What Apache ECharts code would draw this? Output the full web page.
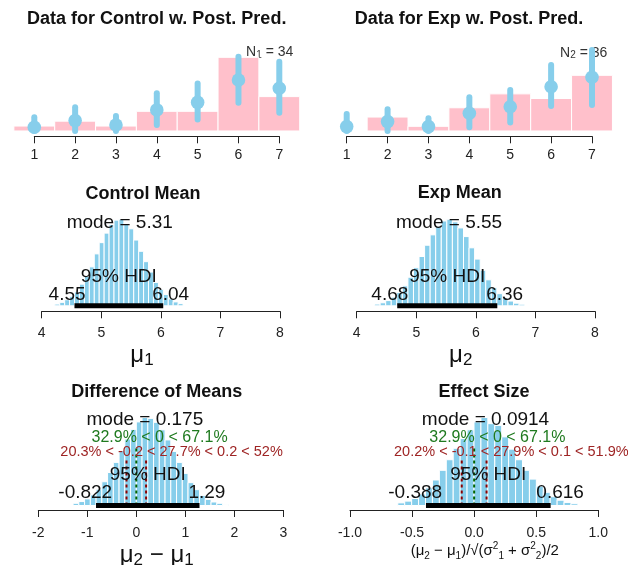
<!DOCTYPE html>
<html><head><meta charset="utf-8">
<script src="https://cdn.jsdelivr.net/npm/echarts@6/dist/echarts.min.js"></script>
<style>html,body{margin:0;padding:0;background:#fff}#c{width:628px;height:565px}</style>
</head><body><div id="c"></div>
<script>
// ---------------- data ----------------
const responseLevels = [1, 2, 3, 4, 5, 6, 7];
const ctrlCounts = [1, 2, 1, 4, 4, 15, 7];
const expCounts  = [0, 3, 1, 5, 8, 7, 12];
const ctrlN = 34, expN = 36;
const ctrlPredMid = [0.022, 0.062, 0.036, 0.126, 0.171, 0.305, 0.256];
const ctrlPredLo  = [0.000, 0.000, 0.000, 0.036, 0.069, 0.169, 0.109];
const ctrlPredHi  = [0.082, 0.142, 0.090, 0.226, 0.285, 0.445, 0.415];
const expPredMid  = [0.026, 0.056, 0.026, 0.106, 0.145, 0.265, 0.322];
const expPredLo   = [0.000, 0.000, 0.000, 0.022, 0.050, 0.150, 0.156];
const expPredHi   = [0.102, 0.130, 0.076, 0.202, 0.246, 0.395, 0.485];

const ctrlMeanBreakStart = 4.22, ctrlMeanBinWidth = 0.0828;
const ctrlMeanDensity = [0.02, 0.04, 0.07, 0.11, 0.16, 0.25, 0.34, 0.45, 0.60, 0.73, 0.84, 0.94, 0.99,
                         1.00, 0.95, 0.89, 0.76, 0.63, 0.51, 0.39, 0.27, 0.19, 0.13, 0.08, 0.045, 0.025];
const ctrlMeanMode = 5.31, ctrlMeanHDI = [4.55, 6.04];

const expMeanBreakStart = 4.30, expMeanBinWidth = 0.0933;
const expMeanDensity = [0.02, 0.035, 0.06, 0.10, 0.155, 0.23, 0.33, 0.44, 0.57, 0.70, 0.82, 0.92, 0.98, 1.00,
                        0.97, 0.90, 0.80, 0.67, 0.54, 0.41, 0.30, 0.21, 0.14, 0.09, 0.055, 0.03, 0.018];
const expMeanMode = 5.55, expMeanHDI = [4.68, 6.36];

const diffBreakStart = -1.29, diffBinWidth = 0.1173;
const diffDensity = [0.025, 0.045, 0.075, 0.12, 0.185, 0.27, 0.375, 0.49, 0.625, 0.755, 0.865, 0.95, 1.00, 0.99,
                     0.945, 0.86, 0.745, 0.615, 0.49, 0.365, 0.26, 0.18, 0.115, 0.07, 0.04, 0.025, 0.012];
const diffMode = 0.175, diffHDI = [-0.822, 1.29];
const diffCompVal = 0, diffCompPct = [32.9, 67.1];
const diffRope = [-0.2, 0.2], diffRopePct = [20.3, 27.7, 52];

const effBreakStart = -0.615, effBinWidth = 0.0558;
const effDensity = [0.03, 0.05, 0.08, 0.13, 0.20, 0.29, 0.40, 0.52, 0.65, 0.76, 0.86, 0.95, 1.00,
                    0.93, 0.91, 0.78, 0.64, 0.52, 0.40, 0.30, 0.22, 0.15, 0.10, 0.06, 0.035, 0.02];
const effMode = 0.0914, effHDI = [-0.388, 0.616];
const effCompVal = 0, effCompPct = [32.9, 67.1];
const effRope = [-0.1, 0.1], effRopePct = [20.2, 27.9, 51.9];

const titles = ['Data for Control w. Post. Pred.', 'Data for Exp w. Post. Pred.',
                'Control Mean', 'Exp Mean', 'Difference of Means', 'Effect Size'];

// ---------------- helpers ----------------
const FONT = "'Liberation Sans', Arial, Helvetica, sans-serif";
const SKY = '#87CEEB', PINK = '#FFC0CB', AX = '#222', TXT = '#111';
const GREEN = '#1f7a1f', RED = '#9e2424', GREENL = '#006400', REDL = '#8B0000';
const mctx = document.createElement('canvas').getContext('2d');
function textWidth(t, size, weight) { mctx.font = (weight || 'normal') + ' ' + size + 'px ' + FONT; return mctx.measureText(t).width; }

const grids = [
  {left: 34.3, top: 40, width: 245, height: 96.3},
  {left: 346.7, top: 40, width: 245.3, height: 96.3},
  {left: 41.7, top: 205, width: 238.3, height: 106.3},
  {left: 356.7, top: 205, width: 238.3, height: 106.3},
  {left: 38.3, top: 405, width: 245, height: 105},
  {left: 350, top: 405, width: 248.3, height: 105}
].map(g => Object.assign({outerBoundsMode: 'none', containLabel: false}, g));

function xAxisCfg(gi, min, max, interval, margin, fmt) {
  return {type: 'value', gridIndex: gi, min, max, interval, position: 'bottom',
    axisLine: {show: true, onZero: false, lineStyle: {color: AX, width: 1}},
    axisTick: {show: true, length: 7, lineStyle: {color: AX, width: 1}},
    axisLabel: {show: true, margin, fontSize: 14, fontFamily: FONT, color: '#222', formatter: fmt,
                showMinLabel: true, showMaxLabel: true, hideOverlap: false},
    splitLine: {show: false}};
}
function yAxisCfg(gi, min, max) { return {type: 'value', gridIndex: gi, min, max, show: false}; }

const xAxes = [
  xAxisCfg(0, 1, 7, 1, 12), xAxisCfg(1, 1, 7, 1, 12),
  xAxisCfg(2, 4, 8, 1, 14.5), xAxisCfg(3, 4, 8, 1, 14.5),
  xAxisCfg(4, -2, 3, 1, 16), xAxisCfg(5, -1, 1, 0.5, 16, v => v.toFixed(1))
];
const yAxes = [
  yAxisCfg(0, -0.032, 0.545), yAxisCfg(1, -0.032, 0.545),
  yAxisCfg(2, -0.0636, 1.165), yAxisCfg(3, -0.0636, 1.165),
  yAxisCfg(4, -0.051, 1.142), yAxisCfg(5, -0.051, 1.142)
];

function dataBars(gi, counts, n) {
  return {type: 'custom', xAxisIndex: gi, yAxisIndex: gi, clip: false, silent: true, z: 2,
    data: responseLevels.map((x, i) => [x, counts[i] / n]),
    renderItem: (p, api) => {
      const x = api.value(0);
      const a = api.coord([x - 0.5, api.value(1)]), b = api.coord([x + 0.5, 0]);
      return {type: 'rect', shape: {x: a[0], y: a[1], width: b[0] - a[0], height: b[1] - a[1]},
              style: {fill: PINK, stroke: '#fff', lineWidth: 1}};
    }};
}
function predDots(gi, mid, lo, hi) {
  return {type: 'custom', xAxisIndex: gi, yAxisIndex: gi, clip: false, silent: true, z: 4,
    data: responseLevels.map((x, i) => [x, mid[i], lo[i], hi[i]]),
    renderItem: (p, api) => {
      const x = api.value(0);
      const m = api.coord([x, api.value(1)]), l = api.coord([x, api.value(2)]), h = api.coord([x, api.value(3)]);
      return {type: 'group', children: [
        {type: 'line', shape: {x1: l[0], y1: l[1], x2: h[0], y2: h[1]}, style: {stroke: SKY, lineWidth: 6, lineCap: 'round'}},
        {type: 'circle', shape: {cx: m[0], cy: m[1], r: 6.8}, style: {fill: SKY}}
      ]};
    }};
}
function histSeries(gi, start, width, dens) {
  return {type: 'custom', xAxisIndex: gi, yAxisIndex: gi, clip: false, silent: true, z: 2,
    data: dens.map((d, i) => [start + i * width, start + (i + 1) * width, d]),
    renderItem: (p, api) => {
      const a = api.coord([api.value(0), api.value(2)]), b = api.coord([api.value(1), 0]);
      return {type: 'rect', shape: {x: a[0], y: a[1], width: b[0] - a[0], height: b[1] - a[1]},
              style: {fill: SKY, stroke: '#fff', lineWidth: 1}};
    }};
}
function hdiLine(gi, hdi) {
  return {type: 'line', xAxisIndex: gi, yAxisIndex: gi, data: [[hdi[0], 0], [hdi[1], 0]], symbol: 'none',
    silent: true, clip: false, z: 4, lineStyle: {color: '#000', width: 5, cap: 'butt'}};
}
function vLine(gi, x, top, color) {
  return {type: 'line', xAxisIndex: gi, yAxisIndex: gi, data: [[x, 0], [x, top]], symbol: 'none',
    silent: true, clip: false, z: 3, lineStyle: {color, width: 2, type: [3, 3]}};
}
function textSeries(gi, specs) {
  return {type: 'custom', xAxisIndex: gi, yAxisIndex: gi, clip: false, silent: true, z: 6,
    data: specs.map(s => [s.x, s.y]),
    renderItem: (p, api) => {
      const s = specs[p.dataIndex];
      const c = api.coord([api.value(0), api.value(1)]);
      const w = textWidth(s.text, s.size);
      return {type: 'text', x: c[0] - s.adj * w, y: c[1],
        style: {text: s.text, fontSize: s.size, fontFamily: FONT, fontWeight: 'normal', fill: s.color || TXT,
                align: 'left', verticalAlign: 'middle', textAlign: 'left', textVerticalAlign: 'middle'}};
    }};
}
function meanSpecs(mode, hdi) {
  return [
    {x: mode, y: 0.965, text: 'mode = ' + mode, adj: 0.5, size: 19},
    {x: (hdi[0] + hdi[1]) / 2, y: 0.335, text: '95% HDI', adj: 0.5, size: 19},
    {x: hdi[0], y: 0.13, text: String(hdi[0]), adj: 0.7, size: 19},
    {x: hdi[1], y: 0.13, text: String(hdi[1]), adj: 0.3, size: 19}
  ];
}
function diffSpecs(mode, hdi, cv, cp, rope, rp) {
  return [
    {x: mode, y: 0.97, text: 'mode = ' + mode, adj: 0.5, size: 19},
    {x: cv, y: 0.77, text: cp[0] + '% < ' + cv + ' < ' + cp[1] + '%', adj: cp[0] / 100, size: 16, color: GREEN},
    {x: (rope[0] + rope[1]) / 2, y: 0.605,
     text: rp[0] + '% < ' + rope[0] + ' < ' + rp[1] + '% < ' + rope[1] + ' < ' + rp[2] + '%',
     adj: (rp[0] + 0.5 * rp[1]) / 100, size: 14.5, color: RED},
    {x: (hdi[0] + hdi[1]) / 2, y: 0.35, text: '95% HDI', adj: 0.5, size: 19},
    {x: hdi[0], y: 0.15, text: String(hdi[0]), adj: 0.7, size: 19},
    {x: hdi[1], y: 0.15, text: String(hdi[1]), adj: 0.3, size: 19}
  ];
}

const series = [
  dataBars(0, ctrlCounts, ctrlN), predDots(0, ctrlPredMid, ctrlPredLo, ctrlPredHi),
  dataBars(1, expCounts, expN), predDots(1, expPredMid, expPredLo, expPredHi),
  histSeries(2, ctrlMeanBreakStart, ctrlMeanBinWidth, ctrlMeanDensity), hdiLine(2, ctrlMeanHDI),
  textSeries(2, meanSpecs(ctrlMeanMode, ctrlMeanHDI)),
  histSeries(3, expMeanBreakStart, expMeanBinWidth, expMeanDensity), hdiLine(3, expMeanHDI),
  textSeries(3, meanSpecs(expMeanMode, expMeanHDI)),
  histSeries(4, diffBreakStart, diffBinWidth, diffDensity),
  vLine(4, diffCompVal, 0.672, GREENL), vLine(4, diffRope[0], 0.528, REDL), vLine(4, diffRope[1], 0.528, REDL),
  hdiLine(4, diffHDI),
  textSeries(4, diffSpecs(diffMode, diffHDI, diffCompVal, diffCompPct, diffRope, diffRopePct)),
  histSeries(5, effBreakStart, effBinWidth, effDensity),
  vLine(5, effCompVal, 0.672, GREENL), vLine(5, effRope[0], 0.528, REDL), vLine(5, effRope[1], 0.528, REDL),
  hdiLine(5, effHDI),
  textSeries(5, diffSpecs(effMode, effHDI, effCompVal, effCompPct, effRope, effRopePct))
];

// ---------------- titles & axis labels ----------------
const titlePos = [[156.7, 19.3], [469, 19.3], [143, 194], [459.8, 193.3], [156.7, 392], [484, 392.3]];
function gText(x, y, text, extra, align) {
  return {type: 'text', x, y, z: 1, silent: true,
    style: Object.assign({text, fill: TXT, fontFamily: FONT, fontSize: 14,
      align: align || 'center', verticalAlign: 'middle', textAlign: align || 'center', textVerticalAlign: 'middle'}, extra)};
}
const muRich = {
  m: {fontSize: 24, fontFamily: FONT, fill: TXT, color: TXT, lineHeight: 28, verticalAlign: 'middle'},
  s: {fontSize: 17, fontFamily: FONT, fill: TXT, color: TXT, lineHeight: 15, verticalAlign: 'bottom'}
};
const nRich = {
  a: {fontSize: 14, fontFamily: FONT, fill: '#333', color: '#333', lineHeight: 16, verticalAlign: 'middle'},
  b: {fontSize: 10, fontFamily: FONT, fill: '#333', color: '#333', lineHeight: 10, verticalAlign: 'bottom'}
};
const esRich = {
  m: {fontSize: 15, fontFamily: FONT, fill: TXT, color: TXT, lineHeight: 20, verticalAlign: 'middle'},
  s: {fontSize: 10, fontFamily: FONT, fill: TXT, color: TXT, lineHeight: 10, verticalAlign: 'bottom'},
  u: {fontSize: 10, fontFamily: FONT, fill: TXT, color: TXT, lineHeight: 10, verticalAlign: 'top'}
};
const graphics = titles.map((t, i) => gText(titlePos[i][0], titlePos[i][1], t, {fontSize: 18, fontWeight: 'bold'}));
graphics.push(gText(293.3, 52, '{a|N}{b|1}{a| = ' + ctrlN + '}', {rich: nRich}, 'right'));
graphics.push(gText(607.3, 52.7, '{a|N}{b|2}{a| = ' + expN + '}', {rich: nRich}, 'right'));
graphics.push(gText(142, 355, '{m|μ}{s|1}', {rich: muRich}));
graphics.push(gText(460.7, 355, '{m|μ}{s|2}', {rich: muRich}));
graphics.push(gText(156.7, 555, '{m|μ}{s|2}{m| − μ}{s|1}', {rich: muRich}));
graphics.push(gText(484.8, 551,
  '{m|(μ}{s|2}{m| − μ}{s|1}{m|)/√(σ}{u|2}{s|1}{m| + σ}{u|2}{s|2}{m|)/2}', {rich: esRich}));

const chart = echarts.init(document.getElementById('c'), null, {renderer: 'canvas'});
chart.setOption({
  animation: false,
  backgroundColor: '#fff',
  grid: grids,
  xAxis: xAxes,
  yAxis: yAxes,
  series,
  graphic: graphics
});
</script></body></html>
